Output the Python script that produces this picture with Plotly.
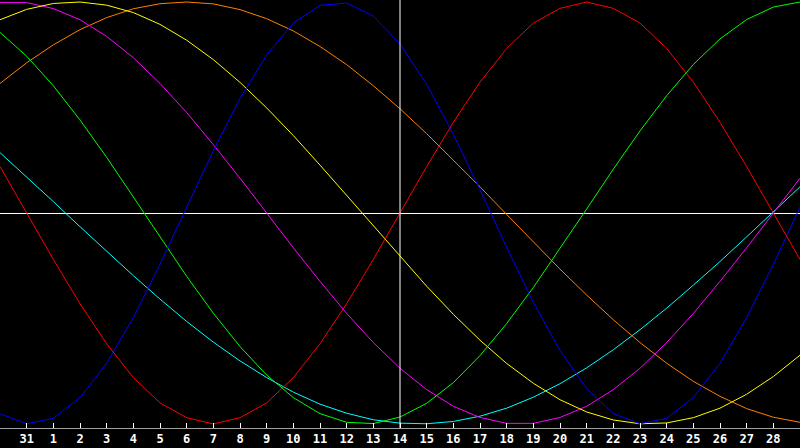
import plotly.graph_objects as go

# Days relative to the start of the month; the chart runs from 30 Jan to 1 Mar
days = list(range(-1, 30))
today = 14

tick_days = list(range(0, 29))
tick_text = ["31"] + [str(d) for d in range(1, 29)]

# Curve values, one per day (-1 .. 29)
red = [0.22, 0.00, -0.22, -0.43, -0.62, -0.78, -0.90, -0.97, -1.00, -0.97,
       -0.90, -0.78, -0.62, -0.43, -0.22, 0.00, 0.22, 0.43, 0.62, 0.78,
       0.90, 0.97, 1.00, 0.97, 0.90, 0.78, 0.62, 0.43, 0.22, 0.00, -0.22]
green = [0.856, 0.743, 0.603, 0.441, 0.264, 0.077, -0.113, -0.300, -0.475, -0.633,
         -0.768, -0.875, -0.951, -0.992, -0.998, -0.967, -0.902, -0.804, -0.676, -0.524,
         -0.353, -0.170, 0.019, 0.208, 0.389, 0.556, 0.704, 0.825, 0.917, 0.976, 1.000]
blue = [-0.951, -0.999, -0.973, -0.875, -0.712, -0.496, -0.243, 0.028, 0.296, 0.543,
        0.749, 0.900, 0.984, 0.995, 0.933, 0.801, 0.610, 0.373, 0.110, -0.163,
        -0.423, -0.652, -0.832, -0.951, -0.999, -0.973, -0.875, -0.712, -0.496, -0.244, 0.028]
yellow = [0.916, 0.965, 0.993, 1.000, 0.985, 0.950, 0.894, 0.819, 0.727, 0.619,
          0.498, 0.367, 0.227, 0.083, -0.063, -0.207, -0.347, -0.480, -0.603, -0.713,
          -0.807, -0.885, -0.943, -0.981, -0.999, -0.995, -0.970, -0.925, -0.859, -0.775, -0.674]
magenta = [0.997, 0.997, 0.969, 0.916, 0.837, 0.736, 0.614, 0.476, 0.324, 0.165,
           0.000, -0.165, -0.324, -0.476, -0.614, -0.736, -0.837, -0.916, -0.969, -0.997,
           -0.997, -0.969, -0.916, -0.837, -0.736, -0.614, -0.476, -0.324, -0.165, 0.000, 0.165]
cyan = [0.286, 0.171, 0.054, -0.065, -0.182, -0.297, -0.408, -0.514, -0.612, -0.701,
        -0.780, -0.849, -0.906, -0.949, -0.980, -0.996, -0.999, -0.988, -0.963, -0.925,
        -0.873, -0.809, -0.734, -0.648, -0.553, -0.451, -0.342, -0.230, -0.113, 0.005, 0.124]
orange = [0.614, 0.712, 0.797, 0.869, 0.926, 0.968, 0.992, 1.000, 0.991, 0.964,
          0.921, 0.863, 0.789, 0.703, 0.603, 0.494, 0.376, 0.252, 0.124, -0.007,
          -0.137, -0.266, -0.389, -0.506, -0.614, -0.712, -0.798, -0.869, -0.927, -0.968, -0.992]

series = [
    (cyan, "#00FFFF"),
    (orange, "#FF8000"),
    (magenta, "#FF00FF"),
    (yellow, "#FFFF00"),
    (green, "#00FF00"),
    (blue, "#0000FF"),
    (red, "#FF0000"),
]

fig = go.Figure()
for vals, col in series:
    fig.add_trace(go.Scatter(x=days, y=vals, mode="lines",
                             line=dict(color=col, width=1), hoverinfo="skip"))

fig.add_vline(x=today, line_color="#FFFFFF", line_width=1)

fig.update_layout(
    width=800, height=448,
    margin=dict(l=0, r=0, t=0, b=20),
    paper_bgcolor="#000000", plot_bgcolor="#000000",
    showlegend=False,
    font=dict(family="DejaVu Sans Mono", color="#FFFFFF", size=12),
)
fig.update_xaxes(
    range=[-1, 29], tickvals=tick_days, ticktext=tick_text,
    showgrid=False, zeroline=False,
    showline=True, linecolor="#A0A0A0", linewidth=1, mirror=True,
    ticks="inside", ticklen=5, tickcolor="#FFFFFF", tickwidth=1,
    tickfont=dict(family="DejaVu Sans Mono", size=12, color="#FFFFFF", weight="bold"),
)
fig.update_yaxes(
    range=[-1.019, 1.0095], showgrid=False, showticklabels=False,
    zeroline=True, zerolinecolor="#FFFFFF", zerolinewidth=1,
    showline=True, linecolor="#A0A0A0", linewidth=1,
)

# drop the browser's default page margin so the chart sits at the window corner
fig.write_html("out.html", config={"displayModeBar": False},
               post_script="document.body.style.margin='0';")
